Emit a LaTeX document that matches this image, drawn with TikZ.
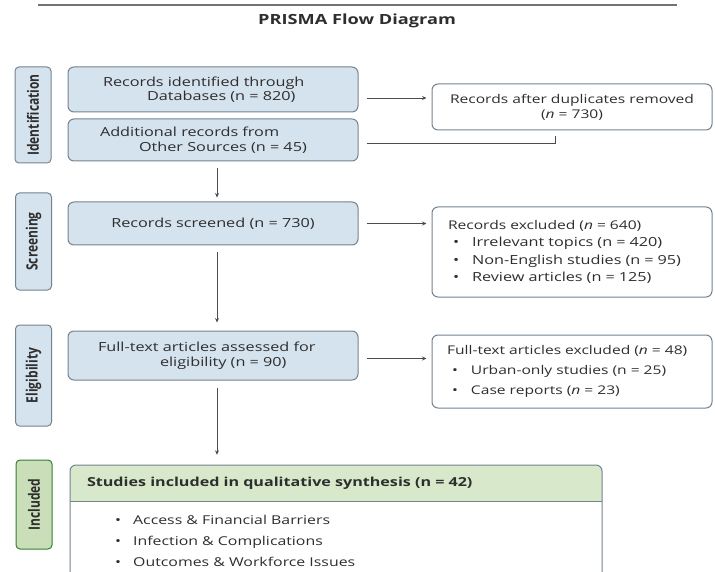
\documentclass[tikz,border=0pt]{standalone}
\usepackage{fontspec}
\setmainfont{Open Sans}[FakeStretch=1.3]
\newfontfamily\labelfont{Open Sans}
\usetikzlibrary{arrows.meta}
\definecolor{stageblue}{HTML}{D5E3EE}
\definecolor{stagegreen}{HTML}{C9DEB9}
\definecolor{headgreen}{HTML}{D8E9CB}
\definecolor{boxline}{HTML}{75838F}
\definecolor{txt}{HTML}{2E2E2E}

\begin{document}
\begin{tikzpicture}[x=1pt,y=-1pt,
  stage/.style={draw=boxline, fill=stageblue, rounded corners=4pt, line width=1pt,
    rotate=90, minimum height=36pt, inner sep=0pt, text=txt,
    font=\labelfont\bfseries\fontsize{12}{14}\selectfont},
  mainbox/.style={draw=boxline, fill=stageblue, rounded corners=6pt, line width=1pt,
    minimum width=290pt, inner sep=0pt, text=txt, align=left,
    font=\fontsize{12.5}{14.5}\selectfont},
  sidebox/.style={draw=boxline, fill=white, rounded corners=6pt, line width=1pt,
    minimum width=280pt, inner sep=0pt, text=txt, align=left,
    font=\fontsize{12}{14}\selectfont},
  arr/.style={draw=black!70, line width=0.8pt, -{Stealth[length=4.5pt,width=4pt]},
    shorten <=7pt, shorten >=5pt},
  conn/.style={draw=black!70, line width=0.8pt}]
\useasboundingbox (0,0) rectangle (715,572);
\clip (0,0) rectangle (715,572);

% title
\draw[black!55, line width=1.2pt] (38,5) -- (677,5);
\node[font=\bfseries\fontsize{14}{16}\selectfont, text=txt] (title) at (357,21) {PRISMA Flow Diagram};

% stages on the left
\node[stage, minimum width=96pt] (ident) at (33,115) {\scalebox{1}[1.3]{Identification}};
\node[stage, minimum width=97pt] (screen) at (33.5,241.5) {\scalebox{1}[1.3]{Screening}};
\node[stage, minimum width=101pt] (elig) at (33.5,375.5) {\scalebox{1}[1.3]{Eligibility}};
\node[stage, fill=stagegreen, draw=black!50!green!60!gray, minimum width=89pt] (incl) at (34,504.5) {\scalebox{1}[1.3]{Included}};

% main column
\node[mainbox, minimum height=45pt, text width=220pt] (dbrec) at (213,89.5)
  {Records identified through\\\hspace*{44pt}Databases (n = 820)};
\node[mainbox, minimum height=42pt, text width=226pt] (otherrec) at (213,140)
  {Additional records from\\\hspace*{39pt}Other Sources (n = 45)};
\node[mainbox, minimum height=43pt, align=center] (screened) at (213,223.5)
  {Records screened (n = 730)};
\node[mainbox, minimum height=49pt, text width=230pt] (fulltext) at (213,355.5)
  {Full-text articles assessed for\\\hspace*{62pt}eligibility (n = 90)};

% right column
\node[sidebox, minimum height=46pt, align=center, font=\fontsize{12}{15}\selectfont] (dupl) at (572,107)
  {Records after duplicates removed\\(\textit{n} = 730)};
\node[sidebox, minimum height=90pt, text width=248pt, font=\fontsize{12}{17.5}\selectfont] (excl) at (572,252)
  {Records excluded (\textit{n} = 640)\\
   {\fontsize{12.5}{17.5}\selectfont\makebox[24pt][l]{\hspace{5pt}•}Irrelevant topics (n = 420)}\\
   {\fontsize{12.5}{17.5}\selectfont\makebox[24pt][l]{\hspace{5pt}•}Non-English studies (n = 95)}\\
   {\fontsize{12.5}{17.5}\selectfont\makebox[24pt][l]{\hspace{5pt}•}Review articles (n = 125)}};
\node[sidebox, minimum height=73pt, text width=250pt, font=\fontsize{12}{20}\selectfont] (ftexcl) at (572,371.5)
  {Full-text articles excluded (\textit{n} = 48)\\
   \makebox[24pt][l]{\hspace{5pt}•}Urban-only studies (n = 25)\\
   \makebox[24pt][l]{\hspace{5pt}•}Case reports (\textit{n} = 23)};

% included box
\fill[headgreen, rounded corners=6pt] (70,501) -- (70,465) -- (602,465) -- (602,501);
\draw[boxline, line width=1pt, rounded corners=6pt] (70,600) -- (70,465) -- (602,465) -- (602,600);
\draw[boxline, line width=1pt] (70,501) -- (602,501);
\node[minimum width=532pt, minimum height=36pt, text width=498pt, inner sep=0pt, align=left,
  text=txt, font=\bfseries\fontsize{12.4}{14}\selectfont] (inclhead) at (336,483)
  {Studies included in qualitative synthesis (n = 42)};
\node[anchor=west, inner sep=0pt, align=left, text=txt, font=\fontsize{12.2}{21}\selectfont] (inclitems) at (112,541)
  {\makebox[21pt][l]{\hspace{3pt}•}Access \& Financial Barriers\\
   \makebox[21pt][l]{\hspace{3pt}•}Infection \& Complications\\
   \makebox[21pt][l]{\hspace{3pt}•}Outcomes \& Workforce Issues};

% connectors
\draw[arr, shorten <=8pt] ([yshift=-8.5pt]dbrec.east) -- ([yshift=-8.5pt]dbrec.east -| dupl.west);
\draw[conn, shorten <=8pt] ([yshift=-3pt]otherrec.east) -| ([xshift=-17pt,yshift=-6pt]dupl.south);
\draw[arr, shorten >=4pt] ([xshift=4pt]otherrec.south) -- ([xshift=4pt]screened.north);
\draw[arr, shorten <=8pt] (screened.east) -- (screened.east -| excl.west);
\draw[arr, shorten >=8pt] ([xshift=4pt]screened.south) -- ([xshift=4pt]fulltext.north);
\draw[arr, shorten <=8pt] ([yshift=-3pt]fulltext.east) -- ([yshift=-3pt]fulltext.east -| ftexcl.west);
\draw[arr, shorten >=10pt] ([xshift=4pt]fulltext.south) -- ([xshift=4pt]fulltext.south |- inclhead.north);
\end{tikzpicture}
\end{document}
